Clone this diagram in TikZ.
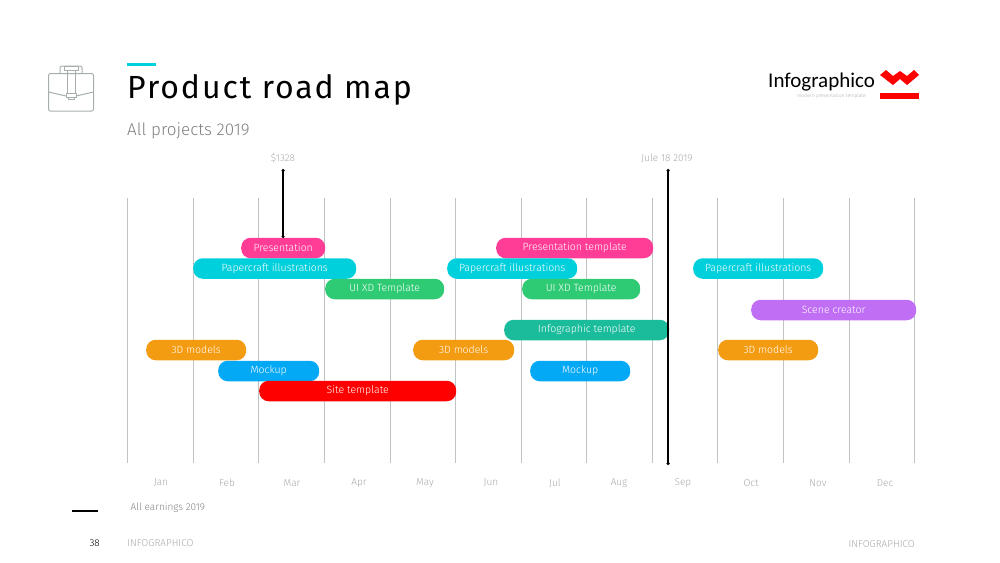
\documentclass[tikz,border=0pt]{standalone}
\usepackage{fontspec}
\setmainfont{Fira Sans Light}
\newfontfamily\regfont{Fira Sans}
\newfontfamily\titlefont[LetterSpace=6]{Fira Sans}
\newfontfamily\logofont{Carlito}
\usetikzlibrary{arrows.meta}

\definecolor{gridgray}{HTML}{BFC3C4}
\definecolor{labelgray}{HTML}{A9A9A9}
\definecolor{subgray}{HTML}{808080}
\definecolor{iconline}{HTML}{A6ADAD}
\definecolor{accent}{HTML}{00CFDC}
\definecolor{pinkbar}{HTML}{FF3D97}
\definecolor{cyanbar}{HTML}{00CFDC}
\definecolor{greenbar}{HTML}{2FCB74}
\definecolor{purplebar}{HTML}{C06FF5}
\definecolor{tealbar}{HTML}{1ABC9C}
\definecolor{orangebar}{HTML}{F39C12}
\definecolor{bluebar}{HTML}{03A9F4}
\definecolor{redbar}{HTML}{FF0000}

\tikzset{
	bar/.style={fill=#1, text=white, rounded corners=9.5pt, minimum height=20.5pt, inner sep=0pt, font=\fontsize{10.5}{12}\selectfont, anchor=west},
	month/.style={text=labelgray, font=\fontsize{10}{12}\selectfont},
	marker/.style={{Circle[length=3pt]}-{Circle[length=3pt]}, black, line width=1.2pt},
	footer/.style={text=labelgray, font=\fontsize{10}{12}\selectfont, anchor=west},
	icon/.style={draw=iconline, line width=1pt, line join=round}
}

\begin{document}
\begin{tikzpicture}[x=1pt,y=-1pt]
	\useasboundingbox (0,0) rectangle (1000,562);

	%Header
	\fill[accent] (127,62.5) rectangle (156,66);
	\node[anchor=west, inner sep=0pt, font=\titlefont\fontsize{32}{36}\selectfont] (title) at (127,90) {Product road map};
	\node[anchor=west, inner sep=0pt, text=subgray, font=\fontsize{17}{20}\selectfont] (subtitle) at (127,131) {All projects 2019};

	%Briefcase
	\draw[icon, rounded corners=2pt] (48.5,73.5) rectangle (93.5,111);
	\draw[icon, rounded corners=2pt] (60,73.5) -- (60,66) -- (82,66) -- (82,73.5);
	\draw[icon] (64,66) rectangle (78,70);
	\draw[icon] (48.5,92) -- (66,96) (93.5,92) -- (76,96);
	\draw[icon] (67,70) -- (67,93) (75,70) -- (75,93);
	\draw[icon] (66,93) rectangle (76,97);
	\draw[icon] (68,97) rectangle (74,99);

	%Logo
	\node[anchor=west, inner sep=0pt, font=\logofont\fontsize{21}{24}\selectfont] (logo) at (768,82) {Infographico};
	\node[anchor=east, inner sep=0pt, text=labelgray, font=\fontsize{5}{6}\selectfont] (slogan) at (866,96) {modern presentation template};
	\fill[redbar] (880,75) -- (886,70) -- (893,76) -- (900,71) -- (907,76) -- (914,70) -- (919,75) -- (907,85) -- (900,79) -- (893,85) -- cycle;
	\fill[redbar] (880,93) rectangle (919,99);

	%Grid
	\foreach \gridx in {127,193,258,324,390,455,521,586,652,717,783,849,914}
		\draw[gridgray, line width=0.8pt] (\gridx,198) -- (\gridx,463);

	%Months
	\foreach \monthx/\monthname in {161/Jan,227/Feb,292/Mar,359/Apr,425/May,491/Jun,555/Jul,619/Aug,683/Sep,751/Oct,818/Nov,885/Dec}
		\node[month] (m\monthname) at (\monthx,483) {\monthname};

	%Bars
	\node[bar=pinkbar, minimum width=84pt] (presA) at (241,248) {Presentation};
	\node[bar=cyanbar, minimum width=163pt] (paperA) at (193,268.5) {Papercraft illustrations};
	\node[bar=greenbar, minimum width=119pt] (uiA) at (325,289) {UI XD Template};
	\node[bar=orangebar, minimum width=100pt] (modelA) at (146,350) {3D models};
	\node[bar=bluebar, minimum width=101pt] (mockA) at (218,371) {Mockup};
	\node[bar=redbar, minimum width=197pt] (siteA) at (259,391) {Site template};

	\node[bar=pinkbar, minimum width=157pt] (presB) at (496,248) {Presentation template};
	\node[bar=cyanbar, minimum width=130pt] (paperB) at (447,268.5) {Papercraft illustrations};
	\node[bar=greenbar, minimum width=118pt] (uiB) at (522,289) {UI XD Template};
	\node[bar=tealbar, minimum width=165pt] (infoB) at (504,330) {Infographic template};
	\node[bar=orangebar, minimum width=101pt] (modelB) at (413,350) {3D models};
	\node[bar=bluebar, minimum width=100pt] (mockB) at (530,371) {Mockup};

	\node[bar=cyanbar, minimum width=130pt] (paperC) at (693,268.5) {Papercraft illustrations};
	\node[bar=purplebar, minimum width=165pt] (sceneC) at (751,310) {Scene creator};
	\node[bar=orangebar, minimum width=100pt] (modelC) at (718,350) {3D models};

	%Markers
	\node[text=labelgray, font=\fontsize{10}{12}\selectfont] (amount) at (283,158.5) {\$1328};
	\node[text=labelgray, font=\fontsize{10}{12}\selectfont] (today) at (667,158.5) {Jule 18 2019};
	\coordinate (amounttop) at (283,169);
	\coordinate (amountend) at (283,238);
	\coordinate (todaytop) at (668,169);
	\coordinate (todayend) at (668,465);
	\draw[marker] (amounttop) -- (amountend);
	\draw[marker] (todaytop) -- (todayend);

	%Footer
	\coordinate (legendl) at (72,511);
	\coordinate (legendr) at (98,511);
	\draw[black, line width=1.5pt] (legendl) -- (legendr);
	\node[footer, text=subgray] (legend) at (127,508) {All earnings 2019};
	\node[anchor=east, inner sep=0pt, font=\fontsize{10}{12}\selectfont] (page) at (100,543) {38};
	\node[footer, inner sep=0pt] (brandl) at (127,543) {INFOGRAPHICO};
	\node[footer, inner sep=0pt, anchor=east] (brandr) at (915,544) {INFOGRAPHICO};
\end{tikzpicture}
\end{document}
